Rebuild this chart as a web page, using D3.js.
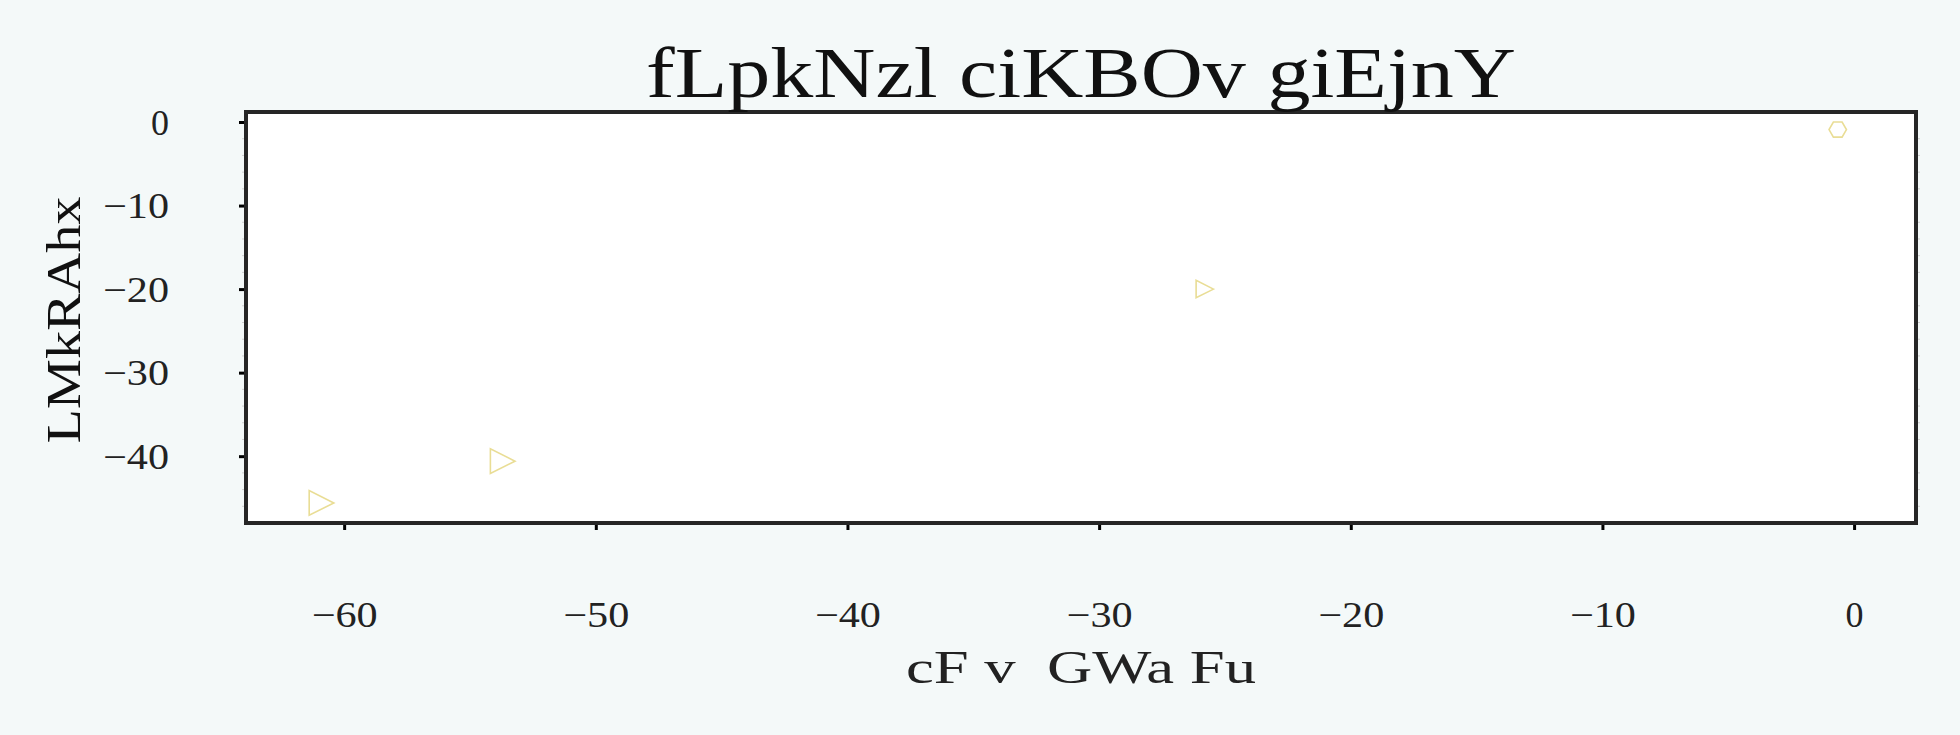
<!DOCTYPE html>
<html>
<head>
<meta charset="utf-8">
<script src="https://cdn.jsdelivr.net/npm/d3@7"></script>
<style>
  html, body { margin: 0; padding: 0; background: #f4f9f9; }
  svg { display: block; }
</style>
</head>
<body>
<svg id="chart" width="1960" height="735"></svg>
<script>
// ---- data ----
const xValues = [-60.9, -53.7, -25.8, -0.65];
const yValues = [-45.6, -40.6, -20.0, -0.9];
const markerShapes = ["triangle-right", "triangle-right", "triangle-right", "hexagon"];
const magnitudes = [2, 2, 1, 1];
const xTickValues = [-60, -50, -40, -30, -20, -10, 0];
const yTickValues = [0, -10, -20, -30, -40];
const titleText = "fLpkNzl ciKBOv giEjnY";
const xLabelText = "cF v\u00a0\u00a0GWa Fu";
const yLabelText = "LMkRAhx";

// ---- layout ----
const W = 1960, H = 735;
const plot = { left: 246, right: 1916, top: 112, bottom: 523 };
const xDomain = [-63.9, 2.46];
const yDomain = [-48.0, 1.2];
const FONT = "'Liberation Serif', 'Times New Roman', serif";
const markerColor = "#e9dd95";
const textColor = "#222222";

const svg = d3.select("#chart");
svg.append("rect").attr("width", W).attr("height", H).attr("fill", "#f4f9f9");

const x = d3.scaleLinear().domain(xDomain).range([plot.left, plot.right]);
const y = d3.scaleLinear().domain(yDomain).range([plot.bottom, plot.top]);
const rScale = d3.scaleSqrt().domain([0, 1]).range([0, 8.7]);

// plot background
svg.append("rect")
  .attr("x", plot.left).attr("y", plot.top)
  .attr("width", plot.right - plot.left).attr("height", plot.bottom - plot.top)
  .attr("fill", "#ffffff");

// minor y ticks (left and right, light grey)
const minorY = d3.range(-46, 1, 2).filter(v => v % 10 !== 0);
const minorG = svg.append("g");
minorG.selectAll("line.ml").data(minorY).join("line")
  .attr("x1", plot.left - 4).attr("x2", plot.left)
  .attr("y1", d => y(d)).attr("y2", d => y(d))
  .attr("stroke", "#cfcfcf").attr("stroke-width", 1);
minorG.selectAll("line.mr").data(minorY).join("line")
  .attr("x1", plot.right).attr("x2", plot.right + 4)
  .attr("y1", d => y(d)).attr("y2", d => y(d))
  .attr("stroke", "#cfcfcf").attr("stroke-width", 1);

// axes
const fmt = d => d3.format("")(d).replace("-", "\u2212");
const xAxis = d3.axisBottom(x).tickValues(xTickValues).tickSize(7).tickPadding(72).tickFormat(fmt);
const yAxis = d3.axisLeft(y).tickValues(yTickValues).tickSize(7).tickPadding(70).tickFormat(fmt);

const gx = svg.append("g").attr("transform", `translate(0,${plot.bottom})`).call(xAxis);
const gy = svg.append("g").attr("transform", `translate(${plot.left},0)`).call(yAxis);
[gx, gy].forEach(g => {
  g.select(".domain").remove();
  g.selectAll(".tick line").attr("stroke", "#000").attr("stroke-width", 3);
  g.selectAll(".tick text").attr("fill", textColor)
    .style("font-family", FONT).style("font-size", "36px")
    .each(function(d) {
      if (d < 0) d3.select(this).attr("textLength", 66).attr("lengthAdjust", "spacingAndGlyphs");
    });
});
gx.selectAll(".tick text").attr("dy", "0").attr("y", 0)
  .attr("transform", "translate(0,104)");
gy.selectAll(".tick text").attr("dy", "0.34em");

// markers
function markerPath(shape, r) {
  let pts;
  if (shape === "triangle-right") {
    pts = [[r, 0], [-r, -r], [-r, r]];
  } else {
    pts = d3.range(6).map(k => [r * Math.cos(k * Math.PI / 3), r * Math.sin(k * Math.PI / 3)]);
  }
  return d3.line()(pts) + "Z";
}
const pts = xValues.map((v, i) => ({ x: v, y: yValues[i], shape: markerShapes[i], m: magnitudes[i] }));
svg.append("g").selectAll("path").data(pts).join("path")
  .attr("transform", d => `translate(${x(d.x)},${y(d.y)})`)
  .attr("d", d => markerPath(d.shape, rScale(d.m)))
  .attr("fill", "none").attr("stroke", markerColor).attr("stroke-width", 1.6);

// frame
svg.append("rect")
  .attr("x", plot.left).attr("y", plot.top)
  .attr("width", plot.right - plot.left).attr("height", plot.bottom - plot.top)
  .attr("fill", "none").attr("stroke", "#262626").attr("stroke-width", 4);

// title
svg.append("text")
  .attr("x", (plot.left + plot.right) / 2).attr("y", 97)
  .attr("text-anchor", "middle")
  .attr("textLength", 870).attr("lengthAdjust", "spacingAndGlyphs")
  .style("font-family", FONT).style("font-size", "72px").attr("fill", "#111")
  .text(titleText);

// x label
svg.append("text")
  .attr("x", 1081).attr("y", 683)
  .attr("text-anchor", "middle")
  .attr("textLength", 350).attr("lengthAdjust", "spacingAndGlyphs")
  .style("font-family", FONT).style("font-size", "46px").attr("fill", textColor)
  .text(xLabelText);

// y label
svg.append("text")
  .attr("transform", `translate(80,320) rotate(-90)`)
  .attr("text-anchor", "middle")
  .attr("textLength", 247).attr("lengthAdjust", "spacingAndGlyphs")
  .style("font-family", FONT).style("font-size", "48px").attr("fill", "#111")
  .text(yLabelText);
</script>
</body>
</html>
